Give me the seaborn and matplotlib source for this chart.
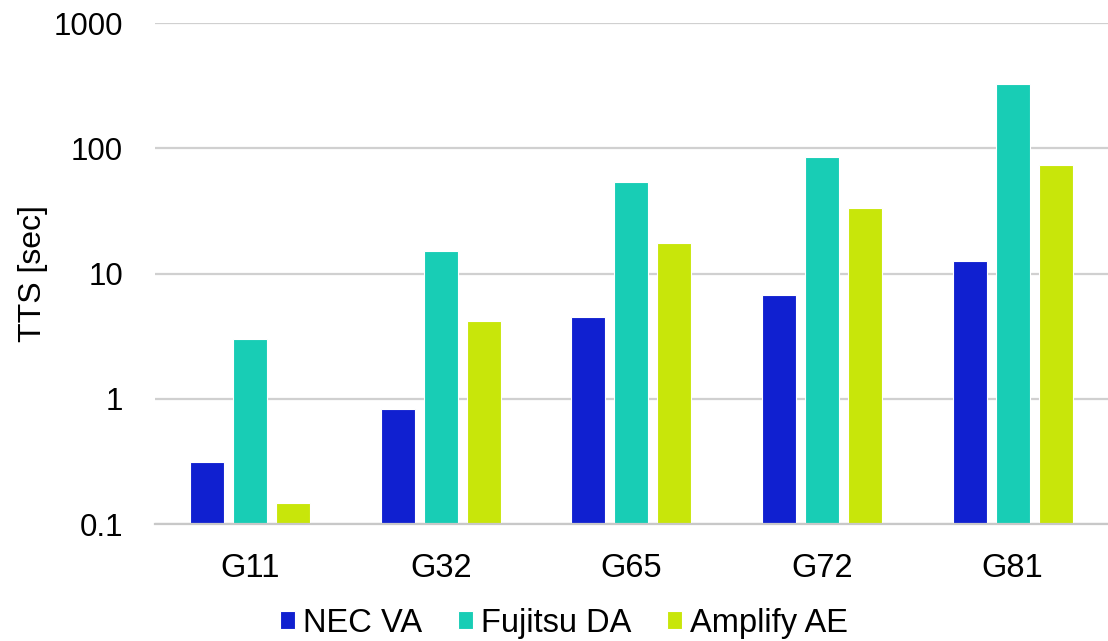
import pandas as pd
import seaborn as sns
import matplotlib.pyplot as plt

# Data (TTS in seconds, log scale)
graphs = ['G11', 'G32', 'G65', 'G72', 'G81']
nec_va = [0.31, 0.83, 4.5, 6.7, 12.6]
fujitsu_da = [3.0, 15.1, 53.6, 85.0, 325.0]
amplify_ae = [0.147, 4.2, 17.5, 33.3, 73.3]

solvers = ['NEC VA', 'Fujitsu DA', 'Amplify AE']
colors = ['#1020D0', '#18CDB5', '#C8E60A']

df = pd.DataFrame({'graph': graphs, 'NEC VA': nec_va,
                   'Fujitsu DA': fujitsu_da, 'Amplify AE': amplify_ae})
df = df.melt(id_vars='graph', var_name='solver', value_name='tts')

sns.set_style('white')
plt.rcParams['font.family'] = ['Liberation Sans', 'DejaVu Sans']
plt.rcParams['text.color'] = 'black'
plt.rcParams['axes.labelcolor'] = 'black'

fig = plt.figure(figsize=(11.08, 6.41), dpi=100)
ax = fig.add_axes([0.1399, 0.1825, 0.860, 0.7816])
ax.set_yscale('log')

sns.barplot(data=df, x='graph', y='tts', hue='solver', hue_order=solvers,
            palette=colors, width=0.677, gap=0.21, edgecolor='white',
            linewidth=0.8, saturation=1, ax=ax)

ax.set_ylim(0.1, 1000)
ax.set_yticks([0.1, 1, 10, 100, 1000])
ax.set_yticklabels(['0.1', '1', '10', '100', '1000'])
ax.minorticks_off()
ax.yaxis.grid(True, color='#d0d0d0', linewidth=1.6)
ax.set_axisbelow(True)
ax.set_xlim(-0.5, 4.5)

for s in ['top', 'right', 'left']:
    ax.spines[s].set_visible(False)
ax.spines['bottom'].set_color('#c8c8c8')
ax.spines['bottom'].set_linewidth(1.6)
ax.tick_params(axis='y', length=0, labelsize=22.5, colors='black', pad=23)
ax.tick_params(axis='x', length=0, labelsize=23.5, colors='black', pad=21)

ax.set_xlabel('')
ax.set_ylabel('TTS [sec]', fontsize=23, labelpad=4)

# legend sits centred on the figure, not on the axes
ax.legend(loc='center', bbox_to_anchor=(0.509, 0.028),
          bbox_transform=fig.transFigure, ncol=3,
          frameon=False, fontsize=23.5, handlelength=0.46, handleheight=0.46,
          handletextpad=0.25, columnspacing=1.08)

fig.savefig('out.png', dpi=100)
